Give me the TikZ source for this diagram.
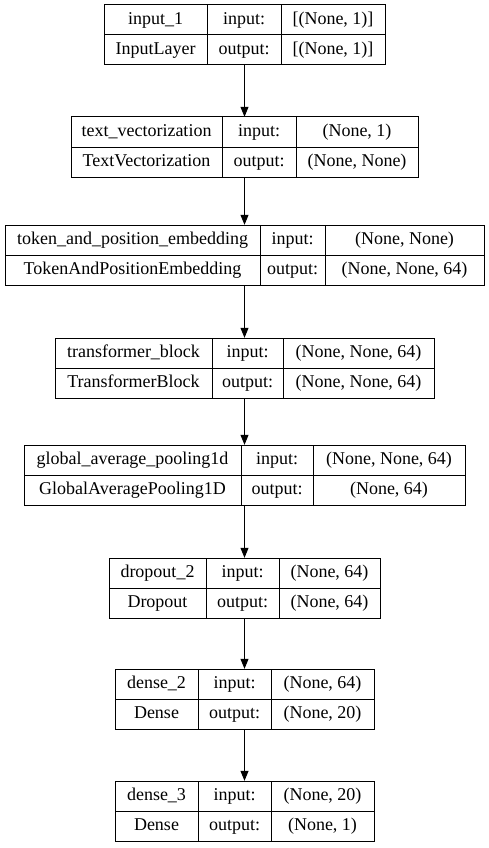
\documentclass[tikz,border=0pt]{standalone}
\usepackage{fontspec}
\setmainfont{Liberation Serif}
\usepackage{tikz}
\usetikzlibrary{positioning,arrows.meta,calc}
\tikzset{
    cell/.style={draw=black, line width=1pt, inner sep=0pt, minimum height=30pt, text height=12.5pt, text depth=4pt, font=\fontsize{18}{21}\selectfont},
    layerbox/.style={draw=none, inner sep=0pt, minimum height=60pt},
    arrow/.style={-{Triangle[length=10pt,width=8pt]}, line width=1pt, draw=black}
}

\begin{document}
\begin{tikzpicture}[x=1pt,y=-1pt]
\useasboundingbox (0,0) rectangle (489,848);
% one table per layer: top, left, two dividers, right
\foreach \n/\yt/\xl/\xa/\xb/\xr/\nm/\cls/\vin/\vout in {
  1/5/104/207/281/385/input\_1/InputLayer/{[(None, 1)]}/{[(None, 1)]},
  2/117/71/222/296/418/text\_vectorization/TextVectorization/{(None, 1)}/{(None, None)},
  3/225/5/260/325/484/token\_and\_position\_embedding/TokenAndPositionEmbedding/{(None, None)}/{(None, None, 64)},
  4/338/55/212/283/434/transformer\_block/TransformerBlock/{(None, None, 64)}/{(None, None, 64)},
  5/445/24/241/313/465/global\_average\_pooling1d/GlobalAveragePooling1D/{(None, None, 64)}/{(None, 64)},
  6/558/109/206/279/380/dropout\_2/Dropout/{(None, 64)}/{(None, 64)},
  7/669/115/198/271/374/dense\_2/Dense/{(None, 64)}/{(None, 20)},
  8/781/115/198/271/374/dense\_3/Dense/{(None, 20)}/{(None, 1)}} {
  \node[layerbox, minimum width=\xr-\xl] (L\n) at ({(\xl+\xr)/2},{\yt+30}) {};
  \node[cell, minimum width=\xa-\xl] (name\n) at ({(\xl+\xa)/2},{\yt+15}) {\nm};
  \node[cell, minimum width=\xa-\xl] (class\n) at ({(\xl+\xa)/2},{\yt+45}) {\cls};
  \node[cell, minimum width=\xb-\xa] (inlab\n) at ({(\xa+\xb)/2},{\yt+15}) {input:};
  \node[cell, minimum width=\xb-\xa] (outlab\n) at ({(\xa+\xb)/2},{\yt+45}) {output:};
  \node[cell, minimum width=\xr-\xb] (inval\n) at ({(\xb+\xr)/2},{\yt+15}) {\vin};
  \node[cell, minimum width=\xr-\xb] (outval\n) at ({(\xb+\xr)/2},{\yt+45}) {\vout};
}
\foreach \a [count=\b from 2] in {1,...,7}
  \draw[arrow] (L\a) -- (L\b);
\end{tikzpicture}
\end{document}
